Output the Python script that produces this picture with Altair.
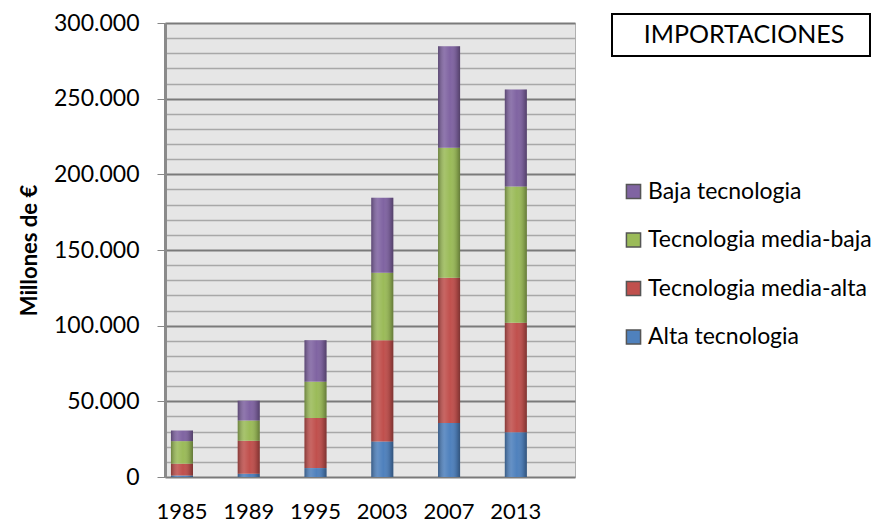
import altair as alt
import pandas as pd

years = ["1985", "1989", "1995", "2003", "2007", "2013"]
series = ["Alta tecnologia", "Tecnologia media-alta", "Tecnologia media-baja", "Baja tecnologia"]
alta = [1000, 2200, 5900, 23500, 35700, 29600]
media_alta = [7800, 21800, 33100, 66900, 95900, 72400]
media_baja = [14900, 13300, 24000, 44500, 85900, 90000]
baja = [7000, 13100, 27400, 49700, 67100, 64000]
colors = ["#4f81bd", "#c0504d", "#9bbb59", "#8064a2"]
title_text = "IMPORTACIONES"
y_title = "Millones de €"

rows = []
for si, (name, vals) in enumerate(zip(series, [alta, media_alta, media_baja, baja])):
    for y, v in zip(years, vals):
        rows.append({"anio": y, "serie": name, "valor": v, "orden": si})
df = pd.DataFrame(rows)

FONT = "Lato"
legend_order = series[::-1]
legend_colors = colors[::-1]
xscale = alt.Scale(paddingInner=0.67, paddingOuter=0.405, align=0.11)
yscale = alt.Scale(domain=[0, 300000], nice=False)

xaxis = alt.Axis(labelAngle=0, labelFontSize=22, labelColor="#000000", labelFont=FONT,
                 domain=False, ticks=False, labelPadding=24)
yaxis = alt.Axis(values=list(range(0, 300001, 10000)),
                 labelExpr="datum.value % 50000 == 0 ? replace(format(datum.value, ','), ',', '.') : ''",
                 labelFontSize=23, labelColor="#000000", labelFont=FONT, labelPadding=18,
                 labelOverlap=False,
                 tickSize=8,
                 tickColor=alt.condition("datum.value % 50000 == 0", alt.value("#868686"), alt.value("transparent")),
                 gridColor=alt.condition("datum.value % 50000 == 0", alt.value("#7a7a7a"), alt.value("#a8a8a8")),
                 gridWidth=alt.condition("datum.value % 50000 == 0", alt.value(2), alt.value(1.5)),
                 domainColor="#8a8a8a", domainWidth=3,
                 titleFont=FONT, titleFontSize=22, titleFontWeight="bold", titleColor="#000000",
                 titlePadding=12)

xenc = alt.X("anio:N", sort=years, title=None, scale=xscale, axis=xaxis)
yenc = alt.Y("valor:Q", stack="zero", title=y_title, scale=yscale, axis=yaxis)

bars = alt.Chart(df).mark_bar().encode(
    x=xenc,
    y=yenc,
    color=alt.Color("serie:N", sort=legend_order,
                    scale=alt.Scale(domain=legend_order, range=legend_colors),
                    legend=alt.Legend(title=None, orient="none", legendX=457, legendY=157,
                                      symbolType="square", symbolSize=200, symbolStrokeWidth=1.5,
                                      symbolStrokeColor="#555555", labelLimit=400,
                                      labelFont=FONT, labelFontSize=23, labelColor="#000000",
                                      rowPadding=24.5, labelOffset=3)),
    order=alt.Order("orden:Q", sort="ascending"),
)

shade = alt.Gradient(
    gradient="linear", x1=0, x2=1, y1=0, y2=0,
    stops=[
        alt.GradientStop(color="rgba(0,0,0,0.30)", offset=0),
        alt.GradientStop(color="rgba(255,255,255,0.12)", offset=0.3),
        alt.GradientStop(color="rgba(255,255,255,0.0)", offset=0.55),
        alt.GradientStop(color="rgba(0,0,0,0.15)", offset=0.85),
        alt.GradientStop(color="rgba(0,0,0,0.35)", offset=1),
    ],
)
cyl = alt.Chart(df).mark_bar(fill=shade).encode(
    x=xenc,
    y=yenc,
    detail="serie:N",
    order=alt.Order("orden:Q", sort="ascending"),
)

tdf = pd.DataFrame({"t": [title_text]})
box = alt.Chart(tdf).mark_rect(fill="white", stroke="black", strokeWidth=2).encode(
    x=alt.value(447), x2=alt.value(705), y=alt.value(-9), y2=alt.value(33)
)
txt = alt.Chart(tdf).mark_text(font=FONT, fontSize=25, color="#000000").encode(
    x=alt.value(579), y=alt.value(12), text="t:N"
)

chart = alt.layer(bars, cyl, box, txt).properties(
    width=410, height=454,
    autosize=alt.AutoSizeParams(type="none"),
    padding={"left": 157, "top": 15, "right": 305, "bottom": 47},
    background="white",
).configure_view(fill="#e6e6e6", stroke="#b0b0b0", strokeWidth=1)

chart.save("out.html", embed_options={"renderer": "svg", "actions": False})
